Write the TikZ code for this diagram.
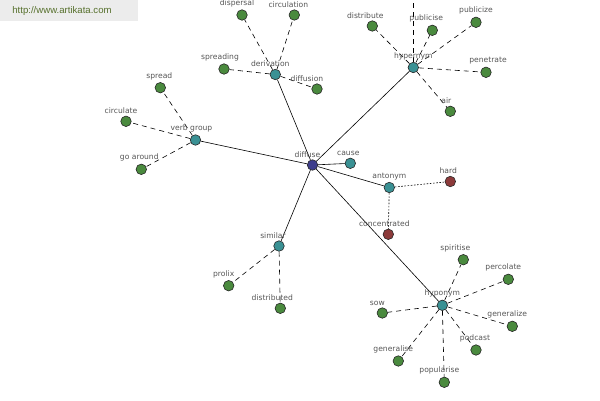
\documentclass[tikz,border=0pt]{standalone}
\usepackage{fontspec}
\setmainfont{DejaVu Sans}
\newfontfamily\wmfont{Liberation Sans}
\usetikzlibrary{backgrounds}
\definecolor{leafgreen}{RGB}{74,138,62}
\definecolor{hubteal}{RGB}{58,145,148}
\definecolor{rootblue}{RGB}{62,62,140}
\definecolor{antred}{RGB}{140,58,58}
\definecolor{lblgray}{RGB}{85,85,85}
\definecolor{wmgreen}{RGB}{86,112,44}
\definecolor{wmbg}{RGB}{236,236,236}
\tikzset{
  x=1pt, y=-1pt,
  dot/.style={circle, draw=black!85, line width=0.6pt, minimum size=10.5pt, inner sep=0pt},
  leaf/.style={dot, fill=leafgreen},
  hub/.style={dot, fill=hubteal},
  root/.style={dot, fill=rootblue},
  opp/.style={dot, fill=antred},
  lbl/.style={font=\fontsize{7.6}{8}\selectfont, text=lblgray, inner sep=0.5pt, label distance=1.5pt},
  rel/.style={line width=0.6pt, black},
  sub/.style={line width=0.6pt, black, dash pattern=on 5pt off 4pt},
  dots/.style={line width=0.6pt, black, dash pattern=on 1.6pt off 1.6pt},
}
\newcommand\vn[6]{\node[#2, label={[lbl, xshift=#5pt]above:#6}] (#1) at (#3,#4) {};}
\begin{document}
\begin{tikzpicture}
\useasboundingbox (0,0) rectangle (600,400);
% watermark
\node[fill=wmbg, minimum width=138pt, minimum height=21pt, inner sep=0pt, anchor=north west] (wm) at (0,0) {};
\node[font=\wmfont\fontsize{9.6}{10}\selectfont, text=wmgreen, inner sep=0pt] (wmtext) at (62,11) {http://www.artikata.com};
% nodes
\vn{diffuse}{root}{312.5}{165}{-5}{diffuse}
\vn{cause}{hub}{350.3}{163.3}{-2}{cause}
\vn{antonym}{hub}{389.3}{187.5}{0}{antonym}
\vn{hard}{opp}{450.3}{181.5}{-2}{hard}
\vn{concentrated}{opp}{388.3}{234.3}{-4}{concentrated}
\vn{verbgroup}{hub}{195.5}{140}{-4}{verb group}
\vn{spread}{leaf}{160.3}{87.7}{-1}{spread}
\vn{circulate}{leaf}{126}{121.3}{-5}{circulate}
\vn{goaround}{leaf}{141.3}{169.3}{-2}{go around}
\vn{derivation}{hub}{275.3}{74.5}{-5}{derivation}
\vn{dispersal}{leaf}{242}{15}{-5}{dispersal}
\vn{circulation}{leaf}{294.3}{15}{-6}{circulation}
\vn{spreading}{leaf}{224}{69}{-4}{spreading}
\vn{diffusion}{leaf}{317}{89}{-10}{diffusion}
\vn{hypernym}{hub}{413.3}{67.5}{0}{hypernym}
\vn{distribute}{leaf}{372.3}{26}{-7}{distribute}
\vn{publicise}{leaf}{432.3}{30.3}{-6}{publicise}
\vn{publicize}{leaf}{476}{22.3}{0}{publicize}
\vn{penetrate}{leaf}{486}{72.3}{2}{penetrate}
\vn{air}{leaf}{450.3}{111.3}{-4}{air}
\coordinate (hyperup) at (413.3,0);
\vn{similar}{hub}{279}{246}{-6}{similar}
\vn{prolix}{leaf}{228.7}{285.7}{-5}{prolix}
\vn{distributed}{leaf}{280.3}{308.3}{-8}{distributed}
\vn{hyponym}{hub}{442.3}{305.3}{0}{hyponym}
\vn{spiritise}{leaf}{463.3}{259.7}{-8}{spiritise}
\vn{percolate}{leaf}{508.3}{279.3}{-5}{percolate}
\vn{generalize}{leaf}{512.3}{326.3}{-5}{generalize}
\vn{podcast}{leaf}{476}{350}{-1}{podcast}
\vn{popularise}{leaf}{444.3}{382.3}{-5}{popularise}
\vn{generalise}{leaf}{398.3}{361}{-5}{generalise}
\vn{sow}{leaf}{382.3}{313}{-5}{sow}
% edges
\begin{pgfonlayer}{background}
\foreach \t in {cause,antonym,verbgroup,derivation,hypernym,similar,hyponym}
  \draw[rel] (diffuse) -- (\t);
\draw[dots] (antonym) -- (hard);
\draw[dots] (antonym) -- (concentrated);
\foreach \t in {spread,circulate,goaround}
  \draw[sub] (verbgroup) -- (\t);
\foreach \t in {dispersal,circulation,spreading,diffusion}
  \draw[sub] (derivation) -- (\t);
\foreach \t in {distribute,publicise,publicize,penetrate,air}
  \draw[sub] (hypernym) -- (\t);
\draw[sub] (hypernym) -- (hyperup);
\foreach \t in {prolix,distributed}
  \draw[sub] (similar) -- (\t);
\foreach \t in {spiritise,percolate,generalize,podcast,popularise,generalise,sow}
  \draw[sub] (hyponym) -- (\t);
\end{pgfonlayer}
\end{tikzpicture}
\end{document}
